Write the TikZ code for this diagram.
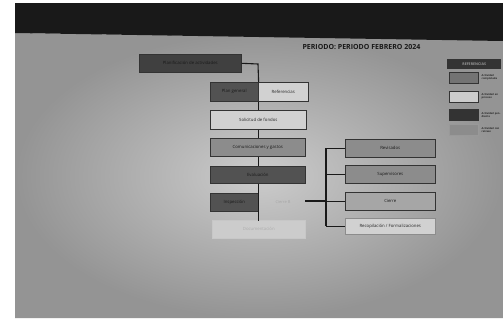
\documentclass[tikz,border=0pt]{standalone}
\usepackage{fontspec}
\setmainfont{Open Sans}
\begin{document}
\begin{tikzpicture}[x=1pt,y=-1pt,
  box/.style={draw=black!80,line width=0.6pt,minimum height=18pt,inner sep=0pt,font=\fontsize{4.3}{5}\selectfont,anchor=north west},
  dk/.style={box,fill=black!68,text=black!90},
  md/.style={box,fill=black!45,text=black!90},
  lt/.style={box,fill=black!18,text=black!85},
  lk/.style={line width=1.1pt,black!90},
  leg/.style={draw=black!80,line width=0.5pt,anchor=north west,minimum width=29pt,minimum height=11pt,inner sep=0pt},
  legtxt/.style={anchor=west,font=\bfseries\fontsize{2.6}{3}\selectfont,text=black!85,align=left,text width=19pt,inner sep=0pt}]
\useasboundingbox (0,0) rectangle (503,327);
\fill[white] (0,0) rectangle (503,327);
% screen
\shade[inner color=black!20,outer color=black!42] (15,33) -- (503,40) -- (503,318) -- (15,318) -- cycle;
\fill[black!90] (15,3) -- (503,3) -- (503,41) -- (15,33) -- cycle;
% title
\node[font=\bfseries\fontsize{7}{8}\selectfont,text=black!90,anchor=west] (title) at (299,47) {PERIODO: PERIODO FEBRERO 2024};
% main column
\node[dk,minimum width=102pt,fill=black!75] (plan) at (139,54) {Planificación de actividades};
\node[dk,minimum width=48pt,minimum height=19pt] (gen) at (210,82) {Plan general};
\node[lt,minimum width=50pt,minimum height=19pt] (ref) at (258,82) {Referencias};
\node[lt,minimum width=96pt,minimum height=19pt] (sol) at (210,110) {Solicitud de fondos};
\node[md,minimum width=95pt] (com) at (210,138) {Comunicaciones y gastos};
\node[dk,minimum width=95pt,minimum height=17pt] (eva) at (210,166) {Evaluación};
\node[dk,minimum width=48pt] (ins) at (210,193) {Inspección};
\node[font=\fontsize{4}{5}\selectfont,text=black!35] (cb) at (283,202) {Cierre B};
\node[box,draw=black!22,fill=black!20,text=black!32,minimum width=93pt] (doc) at (212,220) {Documentación};
% right column
\node[md,minimum width=90pt] (rev) at (345,139) {Revisados};
\node[md,minimum width=90pt] (sup) at (345,165) {Supervisores};
\node[md,minimum width=90pt,fill=black!35] (cie) at (345,192) {Cierre};
\node[lt,minimum width=90pt,minimum height=16pt,draw=black!45] (rec) at (345,218) {Recopilación / Formalizaciones};
% connectors
\coordinate (j1) at (258,64);
\draw[lk] (plan.east) -- (j1) -- (gen.north east);
\draw[lk] (gen.south east) -- (sol.north -| gen.south east);
\draw[lk] (sol.south -| gen.south east) -- (com.north -| gen.south east);
\draw[lk] (com.south -| gen.south east) -- (eva.north -| gen.south east);
\draw[lk] (eva.south -| gen.south east) -- (ins.north east);
\draw[lk] (ins.north east) -- (ins.south east) -- ++(0,9);
\coordinate (bx) at (326,201);
\draw[lk] (305,201) -- (bx);
\draw[lk] (bx |- rev.west) -- (bx |- rec.west);
\draw[lk] (bx |- rev.west) -- (rev.west);
\draw[lk] (bx |- sup.west) -- (sup.west);
\draw[lk] (bx |- cie.west) -- (cie.west);
\draw[lk] (bx |- rec.west) -- (rec.west);
% legend
\node[anchor=north west,fill=black!80,minimum width=54pt,minimum height=10pt,inner sep=1pt,font=\bfseries\fontsize{3.6}{4}\selectfont,text=black!40] (lh) at (447,59) {REFERENCIAS};
\node[leg,fill=black!55] (l1) at (449,72) {};
\node[leg,fill=black!20] (l2) at (449,91) {};
\node[leg,fill=black!80] (l3) at (449,109) {};
\node[leg,fill=black!45,draw=black!40] (l4) at (449,124) {};
\foreach \n/\t in {l1/Actividad completada,l2/Actividad en proceso,l3/Actividad pendiente,l4/Actividad con retraso}
  \node[legtxt] at ([xshift=3pt]\n.east) {\t};
\end{tikzpicture}
\end{document}
